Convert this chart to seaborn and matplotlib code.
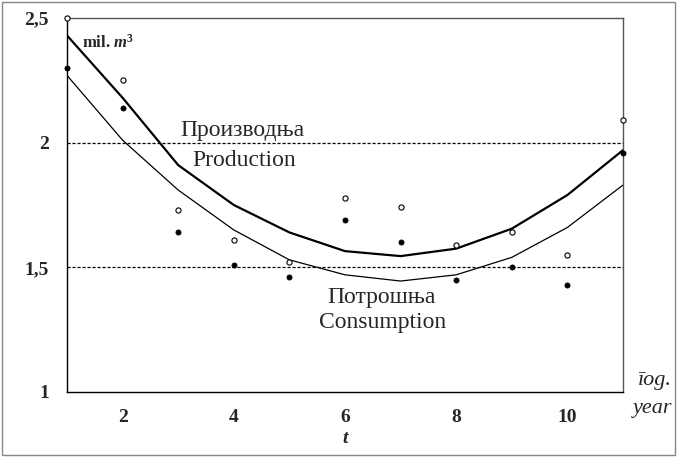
import matplotlib
matplotlib.use("Agg")
import matplotlib.pyplot as plt
import seaborn as sns
import pandas as pd
from matplotlib.patches import Rectangle

# data
t = [1, 2, 3, 4, 5, 6, 7, 8, 9, 10, 11]
prod_obs = [2.50, 2.25, 1.73, 1.61, 1.52, 1.78, 1.74, 1.59, 1.64, 1.55, 2.09]
cons_obs = [2.30, 2.14, 1.64, 1.51, 1.46, 1.69, 1.60, 1.45, 1.50, 1.43, 1.96]
prod_fit = [2.43, 2.18, 1.91, 1.75, 1.64, 1.565, 1.545, 1.575, 1.655, 1.79, 1.97]
cons_fit = [2.27, 2.01, 1.81, 1.65, 1.53, 1.47, 1.445, 1.47, 1.54, 1.66, 1.83]
levels = [2.0, 1.5]
xticks = [2, 4, 6, 8, 10]
yticks = [1, 1.5, 2, 2.5]
ytick_labels = ["1", "1,5", "2", "2,5"]

df = pd.DataFrame({"t": t, "prod_obs": prod_obs, "cons_obs": cons_obs,
                   "prod_fit": prod_fit, "cons_fit": cons_fit})

sns.set_style("white")
plt.rcParams["font.family"] = ["Liberation Serif", "DejaVu Serif"]
plt.rcParams["mathtext.fontset"] = "custom"
plt.rcParams["mathtext.it"] = "Liberation Serif:italic:bold"
plt.rcParams["mathtext.rm"] = "Liberation Serif:bold"

fig = plt.figure(figsize=(6.77, 4.57), dpi=100)
ax = fig.add_axes([67 / 677, 65 / 457, 556 / 677, 374 / 457])

for lv in levels:
    ax.axhline(lv, color="black", lw=0.9, ls=(0, (2.5, 1.5)))

sns.lineplot(data=df, x="t", y="prod_fit", ax=ax, color="black", lw=1.6)
sns.lineplot(data=df, x="t", y="cons_fit", ax=ax, color="black", lw=0.9)
sns.scatterplot(data=df, x="t", y="prod_obs", ax=ax, marker="o", s=14,
                facecolor="white", edgecolor="black", linewidth=0.8, zorder=5, clip_on=False)
sns.scatterplot(data=df, x="t", y="cons_obs", ax=ax, marker="o", s=14,
                color="black", edgecolor="black", linewidth=0.5, zorder=5, clip_on=False)

ax.set_xlim(1, 11)
ax.set_ylim(1, 2.5)
ax.set_xticks(xticks)
ax.set_yticks(yticks)
ax.set_yticklabels(ytick_labels)
ax.tick_params(axis="x", length=0, labelsize=14, pad=12)
ax.tick_params(axis="y", length=0, labelsize=14, pad=13)
for lab in ax.get_xticklabels() + ax.get_yticklabels():
    lab.set_fontweight("bold")
ax.set_xlabel("t", fontsize=14, fontweight="bold", fontstyle="italic", labelpad=3)
ax.set_ylabel("")
for s in ax.spines.values():
    s.set_color("black")
    s.set_linewidth(1.0)
for s in ["top", "right"]:
    ax.spines[s].set_color("#555555")

ax.text(1.27, 2.40, r"mil. $\mathit{m}^{3}$", fontsize=12, fontweight="bold", va="center")
ax.text(4.15, 2.05, "Производња", fontsize=17, ha="center", va="center")
ax.text(4.18, 1.93, "Production", fontsize=17, ha="center", va="center")
ax.text(6.66, 1.38, "Потрошња", fontsize=17, ha="center", va="center")
ax.text(6.68, 1.28, "Consumption", fontsize=17, ha="center", va="center")
fig.text(654 / 677, 1 - 381 / 457, "īog.", fontsize=16, fontstyle="italic", ha="center", va="center")
fig.text(653 / 677, 1 - 409 / 457, "year", fontsize=16, fontstyle="italic", ha="center", va="center")

fig.patches.append(Rectangle((0.003, 0.004), 0.994, 0.992, transform=fig.transFigure,
                             fill=False, edgecolor="#888888", lw=1.0))

fig.savefig("out.png", dpi=100)
